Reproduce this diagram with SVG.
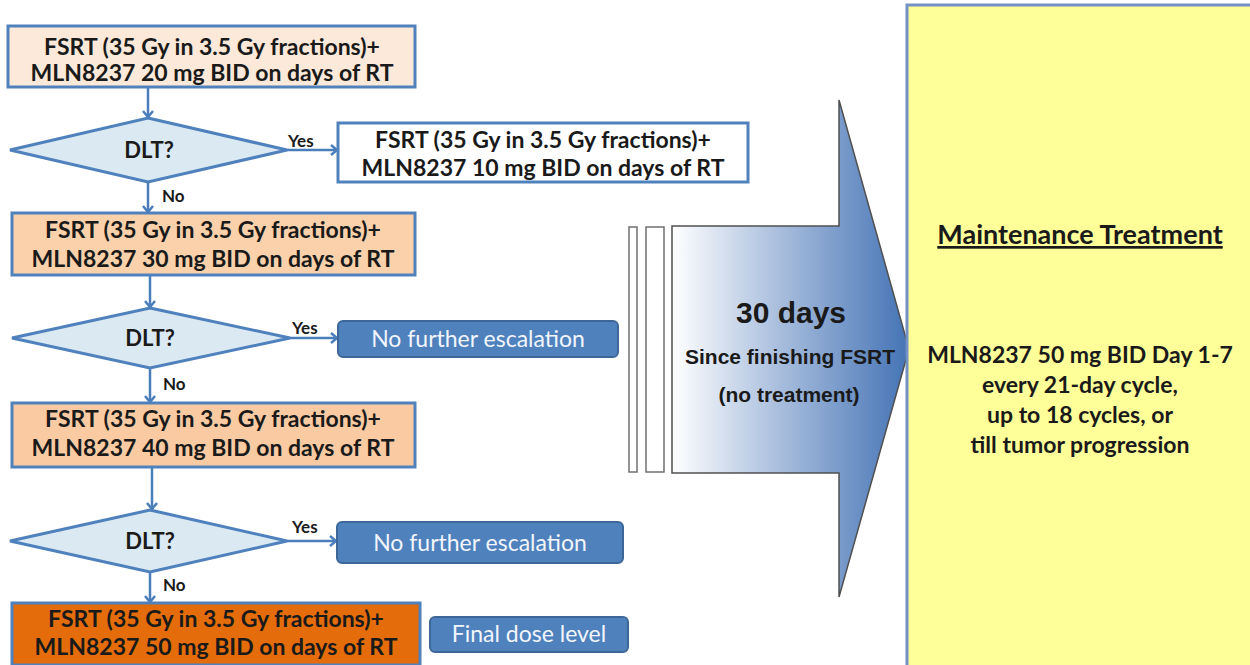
<svg xmlns="http://www.w3.org/2000/svg" width="1250" height="665" viewBox="0 0 1250 665">
<defs>
<style>
.box{stroke:#4f81bd;stroke-width:3}
.dia{fill:#dbe9f3;stroke:#4f81bd;stroke-width:3}
.bt{font-family:Lato,"Open Sans",sans-serif;font-weight:bold;font-size:23px;fill:#1a1a1a;text-anchor:middle}
.dlt{font-family:Lato,"Open Sans",sans-serif;font-weight:bold;font-size:22px;fill:#1a1a1a;text-anchor:middle}
.lbl{font-family:Lato,"Open Sans",sans-serif;font-weight:bold;font-size:17px;fill:#1a1a1a}
.blue{fill:#4f81bd;stroke:#3c6798;stroke-width:2}
.wt{font-family:Lato,"Open Sans",sans-serif;font-size:23px;fill:#f2f5fb;text-anchor:middle}
.conn{stroke:#4a7ebb;stroke-width:2.5;fill:none;marker-end:url(#ah)}
.ar{font-family:"Liberation Sans",Arial,sans-serif;font-weight:bold;fill:#1a1a1a;text-anchor:middle}
.a1{font-size:30px}
.a2{font-size:21px}
.mt{font-family:Lato,"Open Sans",sans-serif;font-weight:bold;font-size:23px;fill:#1a1a1a;text-anchor:middle}
.mtt{font-family:Lato,"Open Sans",sans-serif;font-weight:bold;font-size:27px;fill:#1a1a1a;text-anchor:middle;text-decoration:underline}
</style>
<marker id="ah" markerWidth="12" markerHeight="12" refX="9" refY="6" orient="auto" markerUnits="userSpaceOnUse">
<polyline points="3,1 9,6 3,11" fill="none" stroke="#4a7ebb" stroke-width="2.5"/>
</marker>
<linearGradient id="grad" x1="0" y1="0" x2="1" y2="0">
<stop offset="0" stop-color="#ffffff"/>
<stop offset="0.45" stop-color="#a9bedd"/>
<stop offset="1" stop-color="#4473b5"/>
</linearGradient>
</defs>
<rect width="1250" height="665" fill="#ffffff"/>

<g id="connectors">
<line class="conn" x1="148" y1="88" x2="148" y2="117"/>
<line class="conn" x1="287" y1="150" x2="337" y2="150"/>
<line class="conn" x1="148" y1="182" x2="148" y2="212"/>
<line class="conn" x1="150" y1="276" x2="150" y2="307"/>
<line class="conn" x1="290" y1="338" x2="337" y2="338"/>
<line class="conn" x1="150" y1="368" x2="150" y2="402"/>
<line class="conn" x1="152" y1="468" x2="152" y2="509"/>
<line class="conn" x1="287" y1="541" x2="336" y2="541"/>
<line class="conn" x1="150" y1="572" x2="150" y2="602"/>
<text class="lbl" x="288" y="147">Yes</text>
<text class="lbl" x="162" y="202">No</text>
<text class="lbl" x="292" y="334">Yes</text>
<text class="lbl" x="163" y="390">No</text>
<text class="lbl" x="292" y="533">Yes</text>
<text class="lbl" x="163" y="591">No</text>
</g>

<g id="box1">
<rect class="box" x="8" y="26" width="407" height="61" fill="#fde9d9"/>
<text class="bt" x="212" y="55">FSRT (35 Gy in 3.5 Gy fractions)+</text>
<text class="bt" x="212" y="81">MLN8237 20 mg BID on days of RT</text>
</g>

<g id="dlt1">
<polygon class="dia" points="148,118 287,150 148,182 10,150"/>
<text class="dlt" x="149" y="158">DLT?</text>
</g>

<g id="box2">
<rect class="box" x="338" y="123" width="410" height="59" fill="#ffffff"/>
<text class="bt" x="543" y="148">FSRT (35 Gy in 3.5 Gy fractions)+</text>
<text class="bt" x="543" y="176">MLN8237 10 mg BID on days of RT</text>
</g>

<g id="box3">
<rect class="box" x="12" y="213" width="403" height="62" fill="#fbd1ab"/>
<text class="bt" x="213" y="238">FSRT (35 Gy in 3.5 Gy fractions)+</text>
<text class="bt" x="213" y="267">MLN8237 30 mg BID on days of RT</text>
</g>

<g id="dlt2">
<polygon class="dia" points="150,308 290,338 150,368 12,338"/>
<text class="dlt" x="150" y="346">DLT?</text>
</g>

<g id="stop1">
<rect class="blue" x="338" y="321" width="280" height="36" rx="5"/>
<text class="wt" x="478" y="347">No further escalation</text>
</g>

<g id="box4">
<rect class="box" x="12" y="403" width="403" height="64" fill="#facba3"/>
<text class="bt" x="213" y="427">FSRT (35 Gy in 3.5 Gy fractions)+</text>
<text class="bt" x="213" y="456">MLN8237 40 mg BID on days of RT</text>
</g>

<g id="dlt3">
<polygon class="dia" points="150,510 287,541 150,572 10,541"/>
<text class="dlt" x="150" y="549">DLT?</text>
</g>

<g id="stop2">
<rect class="blue" x="337" y="522" width="286" height="41" rx="5"/>
<text class="wt" x="480" y="551">No further escalation</text>
</g>

<g id="box5">
<rect class="box" x="12" y="603" width="408" height="62" fill="#e46c0a"/>
<text class="bt" x="216" y="627">FSRT (35 Gy in 3.5 Gy fractions)+</text>
<text class="bt" x="216" y="655">MLN8237 50 mg BID on days of RT</text>
</g>

<g id="final">
<rect class="blue" x="430" y="617" width="198" height="35" rx="5"/>
<text class="wt" x="529" y="642">Final dose level</text>
</g>

<g id="interval">
<rect x="629" y="227" width="8" height="245" fill="#ffffff" stroke="#707070" stroke-width="1.5"/>
<rect x="646" y="227" width="18" height="245" fill="#ffffff" stroke="#707070" stroke-width="1.5"/>
<polygon points="672,226 839,226 839,100 909,349 839,597 839,473 672,473" fill="url(#grad)" stroke="#505050" stroke-width="1.5"/>
<text class="ar a1" x="791" y="323">30 days</text>
<text class="ar a2" x="790" y="364">Since finishing FSRT</text>
<text class="ar a2" x="789" y="402">(no treatment)</text>
</g>

<g id="maintenance">
<rect x="907" y="5" width="360" height="680" fill="#ffff99" stroke="#7592c5" stroke-width="3"/>
<text class="mtt" x="1080" y="244">Maintenance Treatment</text>
<text class="mt" x="1080" y="363">MLN8237 50 mg BID Day 1-7</text>
<text class="mt" x="1080" y="393">every 21-day cycle,</text>
<text class="mt" x="1080" y="423">up to 18 cycles, or</text>
<text class="mt" x="1080" y="453">till tumor progression</text>
</g>
</svg>
